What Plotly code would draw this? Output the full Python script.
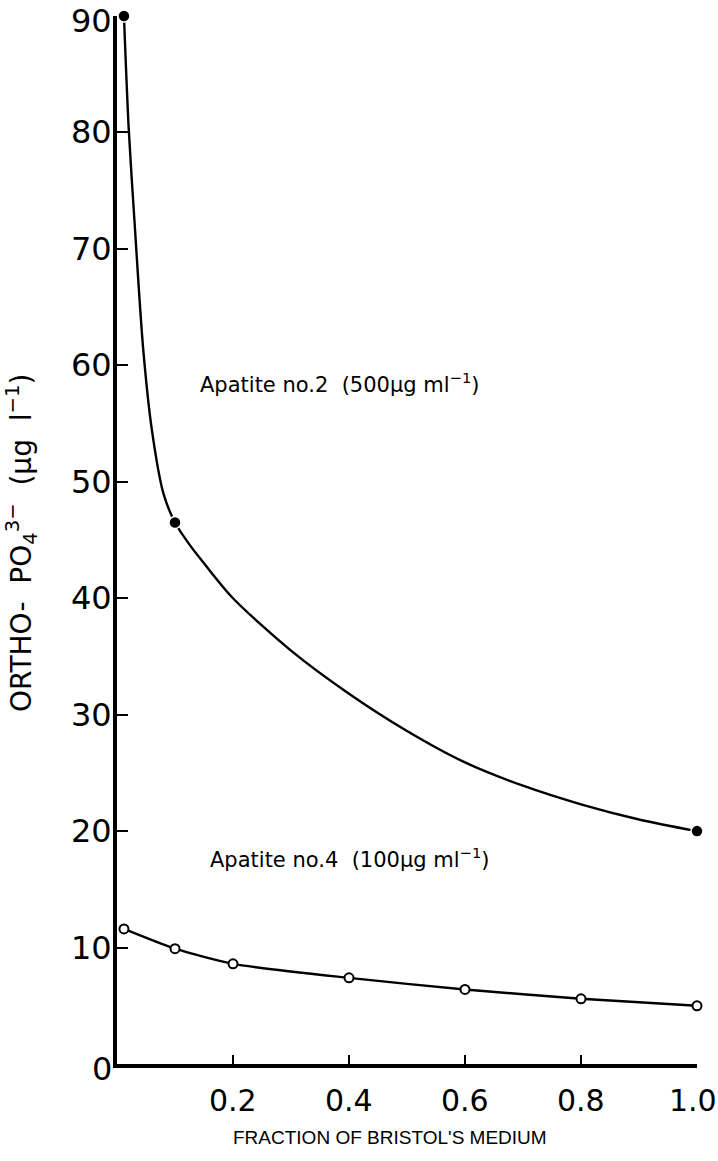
import plotly.graph_objects as go

# Apatite no.2 (500 µg/ml) measured points
x_ap2 = [0.012, 0.1, 1.0]
y_ap2 = [90.0, 46.5, 20.0]
# Apatite no.2 fitted curve
x_ap2_curve = [0.012, 0.02, 0.03, 0.045, 0.06, 0.08, 0.1, 0.125, 0.15, 0.2, 0.3, 0.4, 0.5, 0.6, 0.7, 0.8, 0.9, 1.0]
y_ap2_curve = [90.0, 80.5, 72.5, 61.5, 54.5, 49.0, 46.5, 44.6, 43.0, 40.0, 35.5, 31.8, 28.6, 25.9, 23.9, 22.3, 21.0, 20.0]

# Apatite no.4 (100 µg/ml) measured points
x_ap4 = [0.012, 0.1, 0.2, 0.4, 0.6, 0.8, 1.0]
y_ap4 = [11.6, 9.9, 8.6, 7.4, 6.4, 5.6, 5.0]

x_ticks = [0.2, 0.4, 0.6, 0.8, 1.0]
x_ticktext = ["0.2", "0.4", "0.6", "0.8", "1.0"]
y_ticks = [0, 10, 20, 30, 40, 50, 60, 70, 80, 90]
y_ticktext = ["0", "10", "20", "30", "40", "50", "60", "70", "80", "90"]

FONT = "Liberation Sans, Arial, sans-serif"
WFONT = "DejaVu Sans, Verdana, sans-serif"
L, R, T, B = 117, 697, 16, 1064
PW, PH = R - L, B - T

fig = go.Figure()
fig.add_trace(go.Scatter(x=x_ap2_curve, y=y_ap2_curve, mode="lines",
                         line=dict(color="black", width=2.4, shape="spline", smoothing=0.8),
                         cliponaxis=False, showlegend=False, hoverinfo="skip"))
fig.add_trace(go.Scatter(x=x_ap2, y=y_ap2, mode="markers",
                         marker=dict(symbol="circle", size=12, color="black",
                                     line=dict(color="white", width=1.5)),
                         cliponaxis=False, showlegend=False))
fig.add_trace(go.Scatter(x=x_ap4, y=y_ap4, mode="lines+markers",
                         line=dict(color="black", width=2.4, shape="spline", smoothing=0.6),
                         marker=dict(symbol="circle", size=9, color="white",
                                     line=dict(color="black", width=2)),
                         cliponaxis=False, showlegend=False))

# tick labels as annotations (so edge labels are not hidden)
y_max = max(y_ticks)
for v, t in zip(y_ticks, y_ticktext):
    ys = -5 if v == 0 else (-5 if v == y_max else 0)
    fig.add_annotation(x=0, y=v, xref="x domain", yref="y", xanchor="right", yanchor="middle",
                       xshift=-3, yshift=ys, text=t, showarrow=False,
                       font=dict(family=WFONT, size=32, color="black"))
x_max = max(x_ticks)
for v, t in zip(x_ticks, x_ticktext):
    fig.add_annotation(x=v, y=0, xref="x", yref="y domain", xanchor="center", yanchor="top",
                       xshift=(-4 if v == x_max else 0), yshift=-17, text=t, showarrow=False,
                       font=dict(family=WFONT, size=30, color="black"))

fig.add_annotation(x=0.14, y=58.5, xref="x", yref="y", xanchor="left", yanchor="middle",
                   text="Apatite no.2  (500μg ml<sup>−1</sup>)", showarrow=False,
                   font=dict(family=WFONT, size=21, color="black"))
fig.add_annotation(x=0.157, y=17.7, xref="x", yref="y", xanchor="left", yanchor="middle",
                   text="Apatite no.4  (100μg ml<sup>−1</sup>)", showarrow=False,
                   font=dict(family=WFONT, size=21, color="black"))
fig.add_annotation(x=(390 - L) / PW, y=(B - 1137) / PH, xref="x domain", yref="y domain",
                   xanchor="center", yanchor="middle",
                   showarrow=False, text="FRACTION OF BRISTOL'S MEDIUM",
                   font=dict(family=FONT, size=19, color="black"))
fig.add_annotation(x=(21 - L) / PW, y=(B - 543) / PH, xref="x domain", yref="y domain",
                   xanchor="center", yanchor="middle",
                   showarrow=False, textangle=-90,
                   text="ORTHO-  PO<sub>4</sub><sup>3−</sup>  (μg  l<sup>−1</sup>)",
                   font=dict(family=WFONT, size=28, color="black"))

fig.update_layout(
    width=718, height=1161,
    margin=dict(l=L, r=718 - R, t=T, b=1161 - B, autoexpand=False),
    paper_bgcolor="white", plot_bgcolor="white",
    font=dict(family=FONT, color="black"),
)
fig.update_xaxes(range=[0, 1.0], tickvals=x_ticks, showticklabels=False,
                 ticks="inside", ticklen=9, tickwidth=2, tickcolor="black",
                 showline=True, linewidth=4, linecolor="black",
                 showgrid=False, zeroline=False, automargin=False)
fig.update_yaxes(range=[0, 90], tickvals=y_ticks, showticklabels=False,
                 ticks="inside", ticklen=11, tickwidth=2, tickcolor="black",
                 showline=True, linewidth=4, linecolor="black",
                 showgrid=False, zeroline=False, automargin=False)

fig.write_html("out.html")
